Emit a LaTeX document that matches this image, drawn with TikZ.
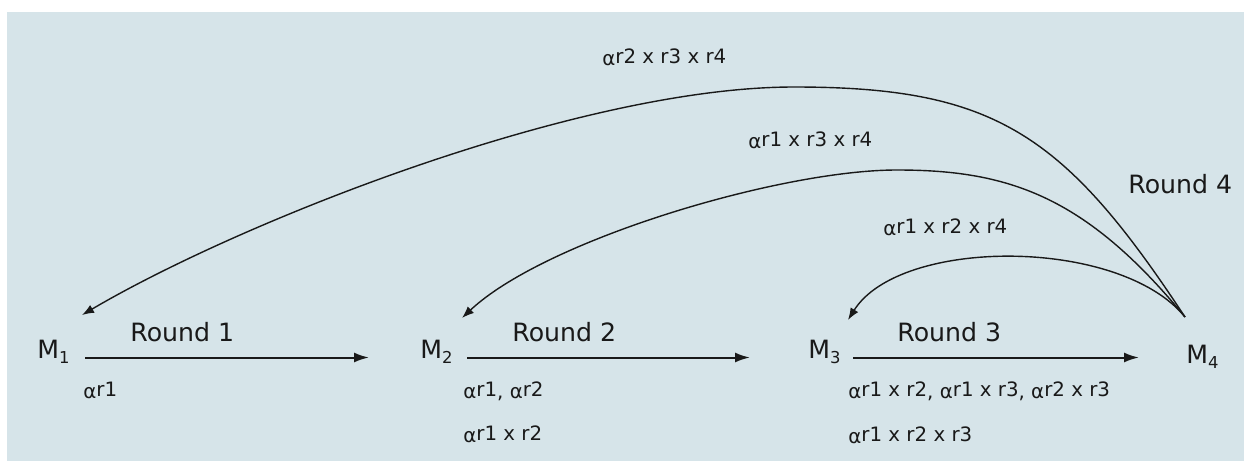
\documentclass[tikz,border=0pt]{standalone}
\usepackage{fontspec}
\setmainfont{DejaVu Sans}
\usetikzlibrary{arrows.meta}
\definecolor{bgc}{RGB}{214,228,233}
\definecolor{ink}{RGB}{25,25,25}
\newcommand{\alr}[1]{α\raisebox{0.15ex}{#1}}
\newcommand{\msub}[1]{M\raisebox{-0.4ex}{\fontsize{8.2pt}{9pt}\selectfont #1}}
\begin{document}
\begin{tikzpicture}[x=0.5pt,y=-0.5pt,
  big/.style={font=\fontsize{12.6pt}{14pt}\selectfont, text=ink, inner sep=0pt, anchor=base west},
  small/.style={font=\fontsize{9.9pt}{12pt}\selectfont, text=ink, inner sep=0pt, anchor=base west},
  flow/.style={draw=ink, line width=1pt, -{Latex[length=7.5pt,width=5pt]}},
  back/.style={draw=ink, line width=0.7pt, -{Latex[length=6pt,width=4.5pt]}}]
\useasboundingbox (0,0) rectangle (1244,461);
\fill[bgc] (7,12) rectangle (1244,461);
% machines
\node[big] (m1) at (37,358) {\msub{1}};
\node[big] (m2) at (420,358) {\msub{2}};
\node[big] (m3) at (808,358) {\msub{3}};
\node[big] (m4) at (1186,363) {\msub{4}};
% round labels
\node[big] (r1) at (130,341) {Round 1};
\node[big] (r2) at (512,341) {Round 2};
\node[big] (r3) at (897,341) {Round 3};
\node[big] (r4) at (1128,193) {Round 4};
% horizontal arrows
\coordinate (a1s) at (85,357.5);  \coordinate (a1e) at (369,357.5);
\coordinate (a2s) at (467,357.5); \coordinate (a2e) at (750,357.5);
\coordinate (a3s) at (853,357.5); \coordinate (a3e) at (1139,357.5);
\draw[flow] (a1s) -- (a1e);
\draw[flow] (a2s) -- (a2e);
\draw[flow] (a3s) -- (a3e);
% lower labels
\node[small] (l1) at (83,398) {\alr{r1}};
\node[small] (l2a) at (463,398) {\alr{r1}, \alr{r2}};
\node[small] (l2b) at (463,442) {\alr{r1 x r2}};
\node[small] (l3a) at (848,398) {\alr{r1 x r2}, \alr{r1 x r3}, \alr{r2 x r3}};
\node[small] (l3b) at (848,443) {\alr{r1 x r2 x r3}};
% upper labels
\node[small] (u1) at (602,65) {\alr{r2 x r3 x r4}};
\node[small] (u2) at (748,148) {\alr{r1 x r3 x r4}};
\node[small] (u3) at (883,235) {\alr{r1 x r2 x r4}};
% curved arrows
\coordinate (s) at (1185,317);
\coordinate (e1) at (82,315);
\coordinate (e2) at (462,318);
\coordinate (e3) at (848,320);
\draw[back] (s) .. controls (1064,133) and (994,87) .. (794,87)
                .. controls (580,87) and (240,222) .. (e1);
\draw[back] (s) .. controls (1085,195) and (1007,170) .. (897,170)
                .. controls (780,170) and (545,240) .. (e2);
\draw[back] (s) .. controls (1120,237) and (900,237) .. (e3);
\end{tikzpicture}
\end{document}
